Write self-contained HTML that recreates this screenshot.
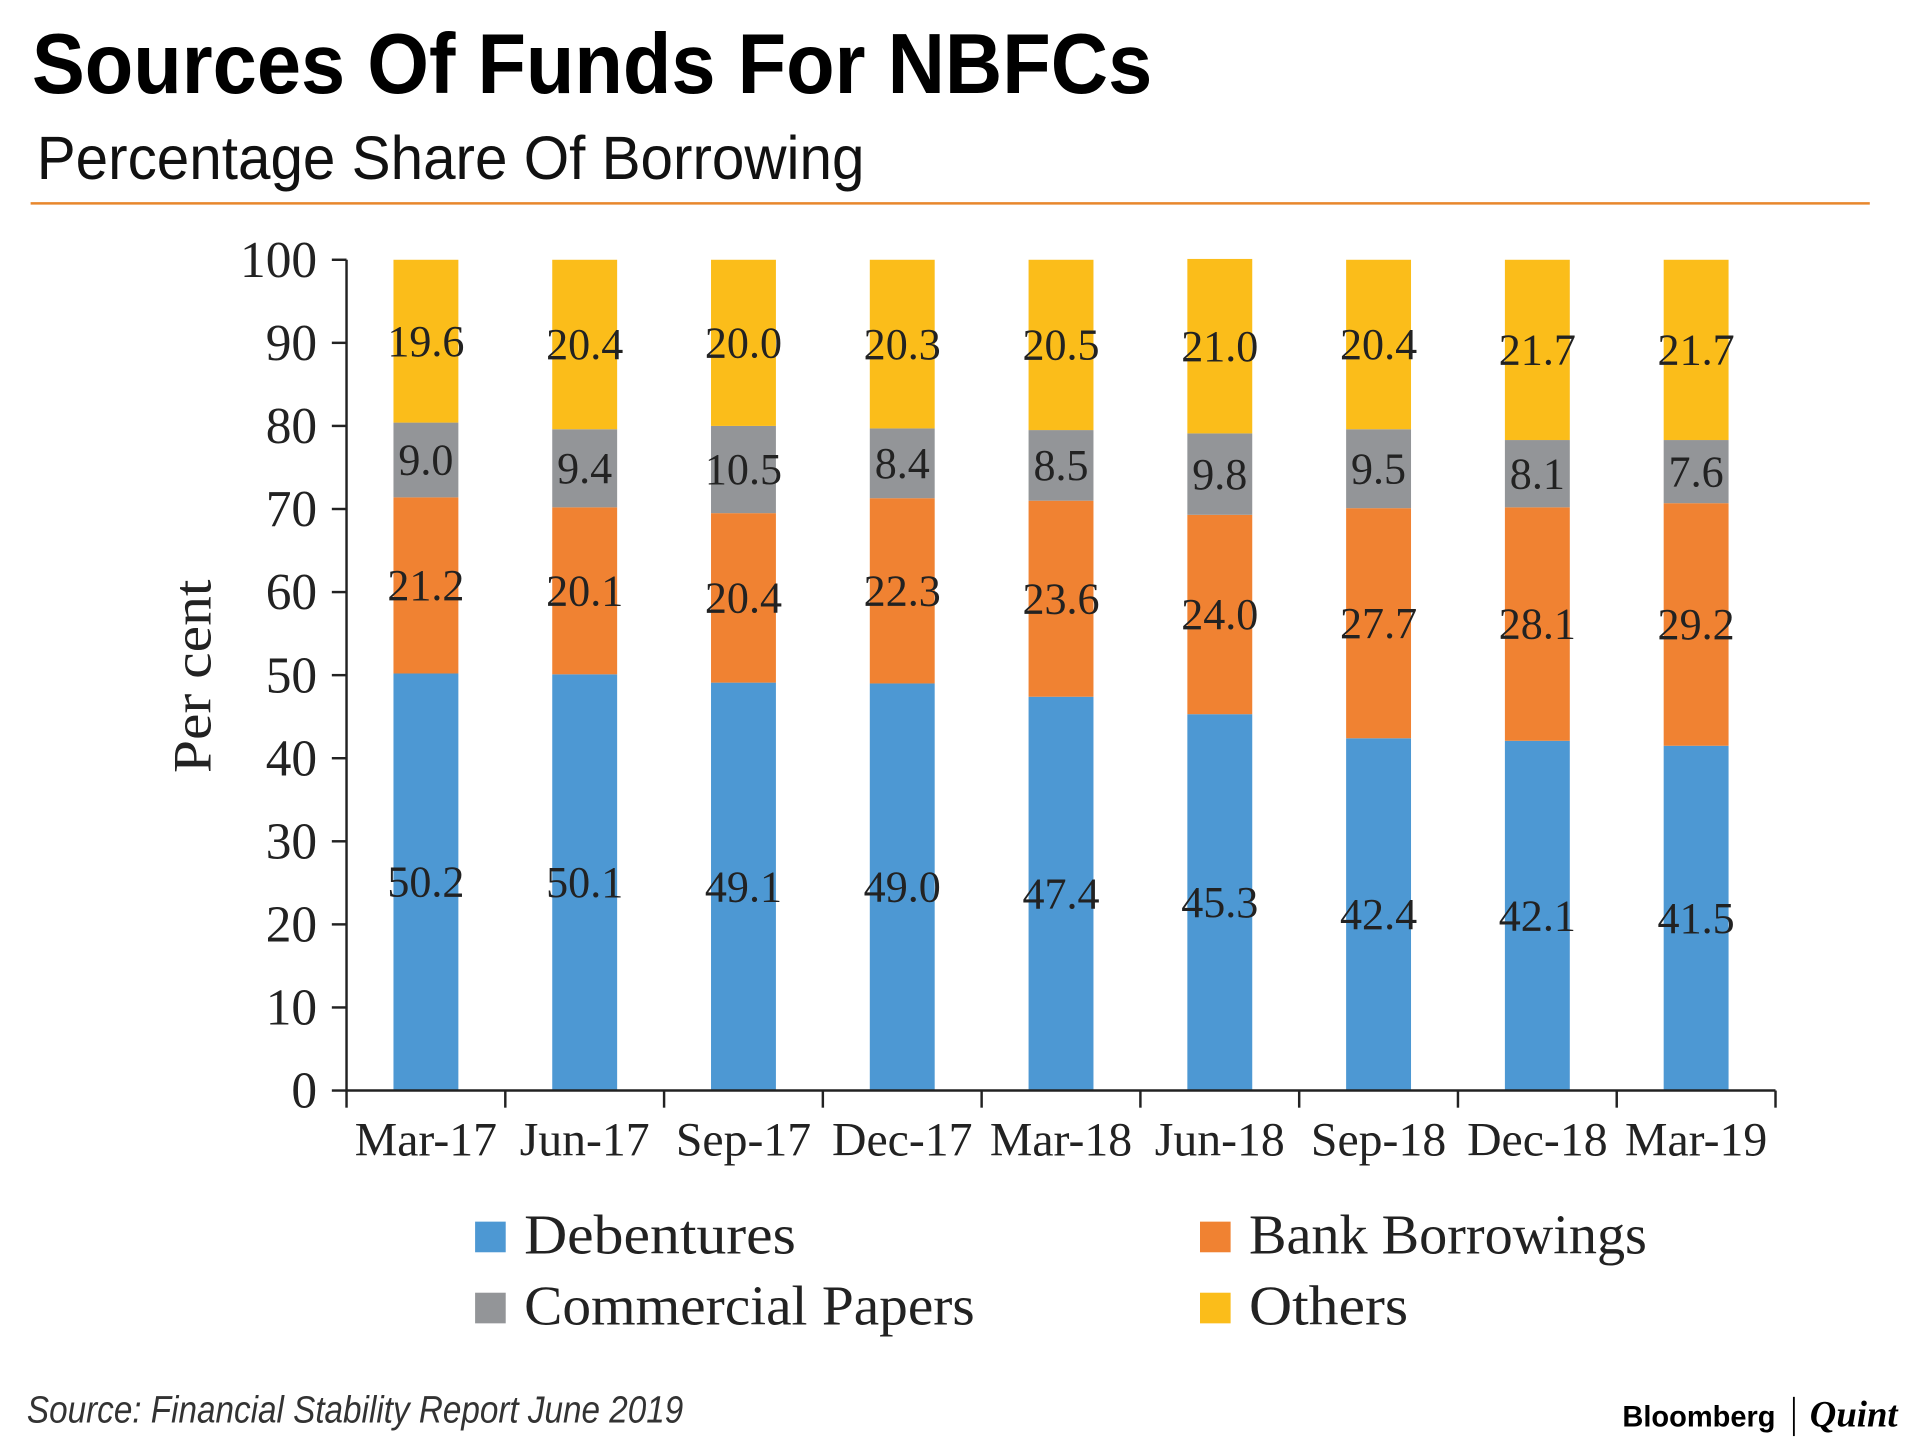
<!DOCTYPE html>
<html><head><meta charset="utf-8"><style>
html,body{margin:0;padding:0;background:#fff;}
svg{display:block;}
</style></head><body>
<svg id="chart" width="1920" height="1452" viewBox="0 0 1568 1185" preserveAspectRatio="none" xmlns="http://www.w3.org/2000/svg">
<rect width="1568" height="1185" fill="#fff"/>
<text x="26" y="76" font-family="'Liberation Sans Narrow','Liberation Sans',sans-serif" font-weight="bold" font-size="70" fill="#000" textLength="915" lengthAdjust="spacingAndGlyphs">Sources Of Funds For NBFCs</text>
<text x="30" y="146" font-family="'Liberation Sans Narrow','Liberation Sans',sans-serif" font-size="50" fill="#111" textLength="676" lengthAdjust="spacingAndGlyphs">Percentage Share Of Borrowing</text>
<line x1="25" y1="166" x2="1527" y2="166" stroke="#e8872c" stroke-width="2"/>
<g id="plot"></g>
<text transform="translate(172,552) rotate(-90)" text-anchor="middle" font-family="'Liberation Serif',serif" font-size="44" fill="#222" textLength="158" lengthAdjust="spacingAndGlyphs">Per cent</text>
<g font-family="'Liberation Serif',serif" font-size="46" fill="#222">
<rect x="388" y="997" width="25" height="25" fill="#4d98d3"/>
<text x="428" y="1023" textLength="222" lengthAdjust="spacingAndGlyphs">Debentures</text>
<rect x="980" y="997" width="25" height="25" fill="#f08232"/>
<text x="1020" y="1023" textLength="325" lengthAdjust="spacingAndGlyphs">Bank Borrowings</text>
<rect x="388" y="1055" width="25" height="25" fill="#939598"/>
<text x="428" y="1081" textLength="368" lengthAdjust="spacingAndGlyphs">Commercial Papers</text>
<rect x="980" y="1055" width="25" height="25" fill="#fbbd1a"/>
<text x="1020" y="1081" textLength="130" lengthAdjust="spacingAndGlyphs">Others</text>
</g>
<text x="22" y="1161" font-family="'Liberation Sans Narrow','Liberation Sans',sans-serif" font-style="italic" font-size="31" fill="#333" textLength="536" lengthAdjust="spacingAndGlyphs">Source: Financial Stability Report June 2019</text>
<text x="1325" y="1164" font-family="'Liberation Sans',sans-serif" font-weight="bold" font-size="24" fill="#000" textLength="125" lengthAdjust="spacingAndGlyphs">Bloomberg</text>
<line x1="1465" y1="1140" x2="1465" y2="1172" stroke="#000" stroke-width="1.5"/>
<text x="1478" y="1164" font-family="'Liberation Serif',serif" font-style="italic" font-weight="bold" font-size="30" fill="#000">Quint</text>
</svg>
<script>
const categories=["Mar-17","Jun-17","Sep-17","Dec-17","Mar-18","Jun-18","Sep-18","Dec-18","Mar-19"];
const debentures=[50.2,50.1,49.1,49.0,47.4,45.3,42.4,42.1,41.5];
const bankBorrowings=[21.2,20.1,20.4,22.3,23.6,24.0,27.7,28.1,29.2];
const commercialPapers=[9.0,9.4,10.5,8.4,8.5,9.8,9.5,8.1,7.6];
const others=[19.6,20.4,20.0,20.3,20.5,21.0,20.4,21.7,21.7];
const yTicks=[0,10,20,30,40,50,60,70,80,90,100];

const NS="http://www.w3.org/2000/svg";
const g=document.getElementById('plot');
const x0=283,x1=1450,yb=890,yt=212;
const bw=(x1-x0)/categories.length;
const y=v=>yb-(v/100)*(yb-yt);
const xc=i=>x0+bw*(i+0.5);
function mk(t,a){const e=document.createElementNS(NS,t);for(const k in a)e.setAttribute(k,a[k]);g.appendChild(e);return e;}
const series=[[debentures,"#4d98d3","debentures"],[bankBorrowings,"#f08232","bank-borrowings"],[commercialPapers,"#939598","commercial-papers"],[others,"#fbbd1a","others"]];
categories.forEach((c,i)=>{
  let cum=0;
  series.forEach(([arr,col,nm])=>{
    const v=arr[i];
    const r=mk('rect',{x:xc(i)-26.5,y:y(cum+v),width:53,height:y(cum)-y(cum+v),fill:col});
    
    
    const t=mk('text',{x:xc(i),y:y(cum+v/2)+12,'text-anchor':'middle','font-family':"'Liberation Serif',serif",'font-size':'36',fill:'#222'});
    t.textContent=v.toFixed(1);
    
    
    cum+=v;
  });
  const xl=mk('text',{x:xc(i),y:943,'text-anchor':'middle','font-family':"'Liberation Serif',serif",'font-size':'39',fill:'#222'});
  xl.textContent=c;
  
  
});
for(let i=0;i<=categories.length;i++){
  const tk=mk('line',{x1:x0+bw*i,x2:x0+bw*i,y1:yb,y2:yb+14,stroke:'#222','stroke-width':2});
  
  
}
yTicks.forEach(v=>{
  const tk=mk('line',{x1:x0-12,x2:x0,y1:y(v),y2:y(v),stroke:'#222','stroke-width':2});
  
  
  const t=mk('text',{x:x0-24,y:y(v)+14,'text-anchor':'end','font-family':"'Liberation Serif',serif",'font-size':'42',fill:'#222'});
  t.textContent=v;
  
  
});
const ya=mk('line',{x1:x0,x2:x0,y1:yt,y2:yb,stroke:'#222','stroke-width':2});


const xa=mk('line',{x1:x0,x2:x1,y1:yb,y2:yb,stroke:'#222','stroke-width':2});


</script>
</body></html>
